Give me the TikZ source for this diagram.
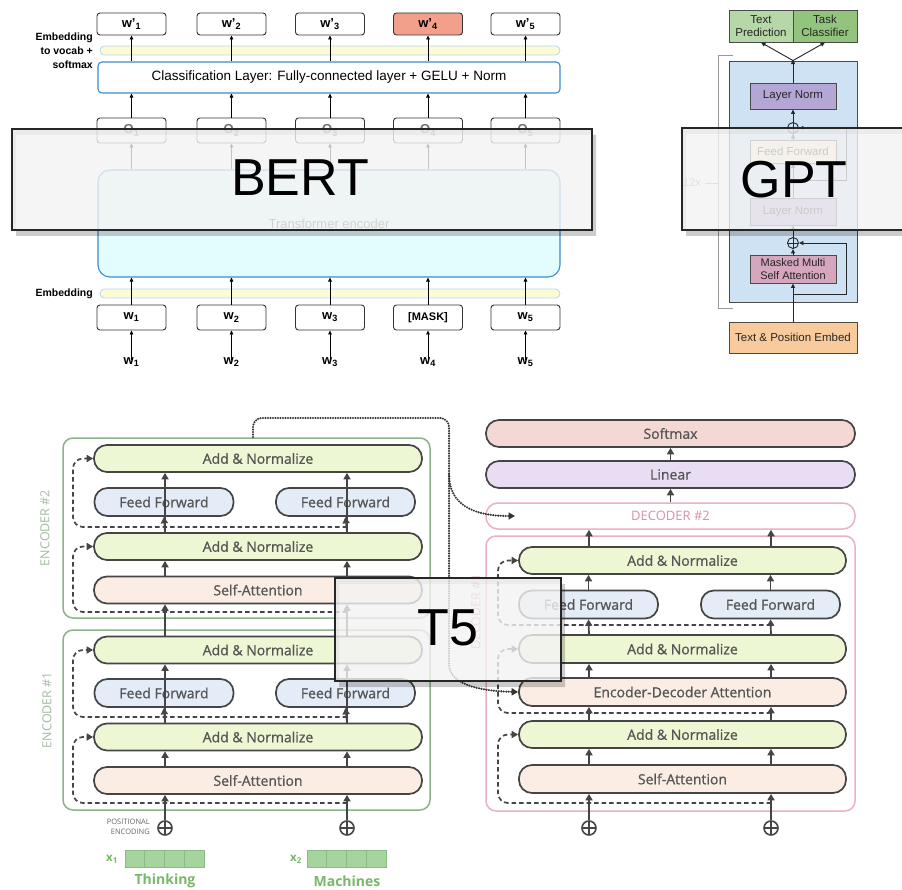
\documentclass[tikz,border=0pt]{standalone}
\usepackage{fontspec}
\setmainfont{Liberation Sans}
\newfontfamily\osans[FakeBold=0.9]{Open Sans}
\newfontfamily\osanr{Open Sans}
\usetikzlibrary{arrows.meta,calc}
\newcommand{\fsz}[1]{\fontsize{#1}{#1}\selectfont}
% BERT colours
\definecolor{bdark}{HTML}{333333}
\definecolor{bertblue}{HTML}{3C8BCF}
\definecolor{cyanfill}{HTML}{E3FDFF}
\definecolor{barfill}{HTML}{FCFBD6}
\definecolor{barline}{HTML}{B9D8EE}
\definecolor{salmon}{HTML}{F2A08C}
% GPT colours
\definecolor{gline}{HTML}{4A4A4A}
\definecolor{gblue}{HTML}{CFE2F3}
\definecolor{lnfill}{HTML}{B4A7D6}
\definecolor{gfffill}{HTML}{FFF2CC}
\definecolor{mmfill}{HTML}{D5A6BD}
\definecolor{embfill}{HTML}{F9CB9C}
\definecolor{tpfill}{HTML}{B6D7A8}
\definecolor{tcfill}{HTML}{93C47D}
% T5 colours
\definecolor{tdark}{HTML}{454545}
\definecolor{ttext}{HTML}{555555}
\definecolor{anfill}{HTML}{EEF7D4}
\definecolor{fffill}{HTML}{E3ECF7}
\definecolor{safill}{HTML}{FBEDE3}
\definecolor{smfill}{HTML}{F4D8D4}
\definecolor{linfill}{HTML}{E8DDF2}
\definecolor{encline}{HTML}{8DB38A}
\definecolor{enctext}{HTML}{A3BCA0}
\definecolor{decline}{HTML}{EAB0C4}
\definecolor{dectext}{HTML}{D890AA}
\definecolor{tgreen}{HTML}{78B86A}
\definecolor{cellfill}{HTML}{A6D49D}
\definecolor{cellline}{HTML}{8DB888}
% overlay panels
\definecolor{ovfill}{HTML}{F3F3F3}
\begin{document}
\begin{tikzpicture}[x=1pt,y=-1pt,
  wbox/.style={draw=bdark, line width=0.9pt, rounded corners=3pt, fill=white,
    minimum width=69pt, minimum height=22pt, inner sep=0pt, font=\bfseries\fsz{13}},
  obox/.style={wbox, minimum height=25pt, text=black!55},
  bar/.style={draw=barline, fill=barfill, line width=0.8pt, rounded corners=4.5pt,
    minimum width=460pt, minimum height=9pt, inner sep=0pt},
  barr/.style={-{Triangle[length=4pt,width=3.6pt]}, line width=0.8pt, draw=black},
  blbl/.style={font=\bfseries\fsz{10.5}, inner sep=0pt},
  gbox/.style={draw=gline, line width=0.9pt, inner sep=0pt, font=\fsz{11.5}, text=black!85},
  gplus/.style={circle, draw=black!85, line width=0.9pt, minimum size=11pt, inner sep=0pt,
    path picture={\draw[line width=0.9pt,black!85] (path picture bounding box.north) -- (path picture bounding box.south)
      (path picture bounding box.west) -- (path picture bounding box.east);}},
  garr/.style={-{Triangle[length=4.5pt,width=4pt]}, line width=0.9pt, draw=black!85},
  tbox/.style={draw=tdark, line width=1.7pt, rounded corners=13pt, inner sep=0pt,
    font=\osans\fsz{14}, text=ttext},
  anorm/.style={tbox, fill=anfill, minimum width=328pt, minimum height=27pt},
  ffwd/.style={tbox, fill=fffill, minimum width=139pt, minimum height=28pt},
  sattn/.style={tbox, fill=safill, minimum width=328pt, minimum height=27pt},
  tplus/.style={circle, draw=tdark, line width=1.6pt, minimum size=14pt, inner sep=0pt,
    path picture={\draw[line width=1.6pt,tdark] (path picture bounding box.north) -- (path picture bounding box.south)
      (path picture bounding box.west) -- (path picture bounding box.east);}},
  tarr/.style={-{Triangle[length=6.5pt,width=7pt]}, line width=1.7pt, draw=tdark},
  resid/.style={-{Triangle[length=6.5pt,width=7pt]}, line width=1.7pt, draw=tdark,
    dash pattern=on 4.5pt off 3pt, rounded corners=10pt},
  dotl/.style={-{Triangle[length=6.5pt,width=7pt]}, line width=2.3pt, draw=black!80,
    line cap=round, dash pattern=on 0pt off 2.5pt},
  stack/.style={rounded corners=10pt, line width=1.5pt, minimum width=367pt, inner sep=0pt},
  ovl/.style={draw=black!85, line width=1.6pt, fill=ovfill, fill opacity=0.8, text opacity=1,
    inner sep=0pt, font=\fsz{52}},
  shade/.style={fill=black, fill opacity=0.2, even odd rule}
]
\useasboundingbox (0,0) rectangle (902,890);
\fill[white] (0,0) rectangle (902,890);

% ---------------- BERT ----------------
\node[wbox] (wo1) at (131.5,24) {w’\textsubscript{1}};
\node[wbox] (wo2) at (231.5,24) {w’\textsubscript{2}};
\node[wbox] (wo3) at (330,24) {w’\textsubscript{3}};
\node[wbox,fill=salmon] (wo4) at (428,24) {w’\textsubscript{4}};
\node[wbox] (wo5) at (525.5,24) {w’\textsubscript{5}};
\node[bar] (vbar) at (330,50.5) {};
\node[draw=bertblue, line width=1.1pt, rounded corners=4pt, fill=white, minimum width=462pt,
  minimum height=31pt, inner sep=0pt, font=\fsz{13.5}] (cls) at (329,77.5)
  {Classification Layer: Fully-connected layer + GELU + Norm};
\node[obox] (o1) at (131.5,130.5) {O\textsubscript{1}};
\node[obox] (o2) at (231.5,130.5) {O\textsubscript{2}};
\node[obox] (o3) at (330,130.5) {O\textsubscript{3}};
\node[obox] (o4) at (428,130.5) {O\textsubscript{4}};
\node[obox] (o5) at (525.5,130.5) {O\textsubscript{5}};
\node[draw=bertblue, line width=1.1pt, rounded corners=12pt, fill=cyanfill, minimum width=462pt,
  minimum height=107pt, inner sep=0pt, font=\fsz{13}, text=black!70] (enc) at (329,223.5)
  {Transformer encoder};
\node[bar] (ebar) at (330,293.5) {};
\node[wbox, minimum height=25pt] (wi1) at (131.5,317.5) {w\textsubscript{1}};
\node[wbox, minimum height=25pt] (wi2) at (231.5,317.5) {w\textsubscript{2}};
\node[wbox, minimum height=25pt] (wi3) at (330,317.5) {w\textsubscript{3}};
\node[wbox, minimum height=25pt, font=\bfseries\fsz{11}] (wi4) at (428,317.5) {[MASK]};
\node[wbox, minimum height=25pt] (wi5) at (525.5,317.5) {w\textsubscript{5}};
\node[blbl, font=\bfseries\fsz{13}] (l1) at (131.5,362) {w\textsubscript{1}};
\node[blbl, font=\bfseries\fsz{13}] (l2) at (231.5,362) {w\textsubscript{2}};
\node[blbl, font=\bfseries\fsz{13}] (l3) at (330,362) {w\textsubscript{3}};
\node[blbl, font=\bfseries\fsz{13}] (l4) at (428,362) {w\textsubscript{4}};
\node[blbl, font=\bfseries\fsz{13}] (l5) at (525.5,362) {w\textsubscript{5}};
\foreach \i in {1,...,5} {
  \draw[barr] ([yshift=-3pt]l\i.north) -- (wi\i.south);
  \draw[barr] (wi\i.north) -- (wi\i.north |- enc.south);
  \draw[barr] (o\i.south |- enc.north) -- (o\i.south);
  \draw[barr] (o\i.north) -- (o\i.north |- cls.south);
  \draw[barr] (wo\i.south |- cls.north) -- (wo\i.south);
}
\node[blbl, anchor=east, align=right, font=\bfseries\fontsize{10.5}{14}\selectfont] (vlab) at (93,51)
  {Embedding\\to vocab +\\softmax};
\node[blbl, anchor=east] (elab) at (93,293.5) {Embedding};

% ---------------- GPT ----------------
\node[gbox, fill=tpfill, minimum width=64pt, minimum height=32pt, align=center,
  font=\fontsize{11.5}{13.5}\selectfont] (tp) at (761,26) {Text\\Prediction};
\node[gbox, fill=tcfill, minimum width=64pt, minimum height=32pt, align=center,
  font=\fontsize{11.5}{13.5}\selectfont] (tc) at (825,26) {Task\\Classifier};
\node[gbox, fill=gblue, minimum width=128pt, minimum height=241pt] (gblk) at (793,181.5) {};
\node[gbox, fill=lnfill, minimum width=86pt, minimum height=26pt] (ln2) at (793,96) {Layer Norm};
\node[gplus] (add2) at (793,128) {};
\node[gbox, fill=gfffill, minimum width=86pt, minimum height=23pt] (gff) at (793,151.5) {Feed Forward};
\node[gbox, fill=lnfill, minimum width=86pt, minimum height=27pt] (ln1) at (793,211.5) {Layer Norm};
\node[gplus] (add1) at (793,243) {};
\node[gbox, fill=mmfill, minimum width=86pt, minimum height=28pt, align=center,
  font=\fontsize{11}{12.5}\selectfont] (mm) at (793,269) {Masked Multi\\Self Attention};
\node[gbox, fill=embfill, minimum width=128pt, minimum height=31pt] (temb) at (793,337.5) {Text \& Position Embed};
\draw[garr] (temb.north) -- (mm.south);
\draw[garr] (mm.north) -- (add1.south);
\draw[garr] (add1.north) -- (ln1.south);
\draw[garr] (ln1.north) -- (gff.south);
\draw[garr] (gff.north) -- (add2.south);
\draw[garr] (add2.north) -- (ln2.south);
\draw[garr] (ln2.north) -- ([yshift=1pt]gblk.north);
\draw[garr] (gblk.north) -- (tp.south);
\draw[garr] (gblk.north) -- (tc.south);
\coordinate (gr1) at (793,294);
\coordinate (gr2) at (793,180);
\draw[garr] (gr1) -- (846,294) -- (846,243) -- (add1.east);
\draw[garr] (gr2) -- (846,180) -- (846,128) -- (add2.east);
\draw[black!40, line width=0.8pt] (733,55) -- (718,55) -- (718,308) -- (733,308);
\node[font=\fsz{11}, text=black!40, inner sep=1pt] (n12) at (692,183) {12x};
\draw[black!40, line width=0.8pt] (n12.east) ++(3pt,0) -- (718,183);

% ---------------- T5 encoders ----------------
\coordinate (eA) at (165,0);
\coordinate (eB) at (347,0);
\node[stack, draw=encline, minimum height=180pt] (enc2) at (246.5,528) {};
\node[stack, draw=encline, minimum height=180pt] (enc1) at (246.5,720) {};
\node[rotate=90, font=\osanr\fsz{12.5}, text=enctext] (enc2lab) at (45,528) {ENCODER \#2};
\node[rotate=90, font=\osanr\fsz{12.5}, text=enctext] (enc1lab) at (47,710) {ENCODER \#1};

\node[anorm] (e2an2) at (258,458.5) {Add \& Normalize};
\node[ffwd] (e2ffA) at (164,502) {Feed Forward};
\node[ffwd] (e2ffB) at (345.5,502) {Feed Forward};
\node[anorm] (e2an1) at (258,546.5) {Add \& Normalize};
\node[sattn] (e2sa) at (258,590) {Self-Attention};

\node[anorm] (e1an2) at (258,650) {Add \& Normalize};
\node[ffwd] (e1ffA) at (164,693) {Feed Forward};
\node[ffwd] (e1ffB) at (345.5,693) {Feed Forward};
\node[anorm] (e1an1) at (258,737) {Add \& Normalize};
\node[sattn] (e1sa) at (258,780.5) {Self-Attention};

\node[tplus] (pA) at (165,828) {};
\node[tplus] (pB) at (347,828) {};
\node[anchor=east, align=right, font=\osanr\fontsize{7.5}{9.5}\selectfont, text=black!60, inner sep=0pt]
  (poslab) at (150,827) {POSITIONAL\\ENCODING};

% residual connections (encoders)
\draw[resid] (347,527) -- (73,527) -- (73,458.5) -- (e2an2.west);
\draw[resid] (347,612) -- (73,612) -- (73,546.5) -- (e2an1.west);
\draw[resid] (347,717) -- (73,717) -- (73,650) -- (e1an2.west);
\draw[resid] (347,803) -- (73,803) -- (73,737) -- (e1an1.west);

\foreach \c in {eA,eB} {
  \draw[tarr] (e2an1.north -| \c) -- (e2an2.south -| \c);
  \draw[tarr] (e2sa.north -| \c) -- (e2an1.south -| \c);
  \draw[tarr] (e1an2.north -| \c) -- (e2sa.south -| \c);
  \draw[tarr] (e1an1.north -| \c) -- (e1an2.south -| \c);
  \draw[tarr] (e1sa.north -| \c) -- (e1an1.south -| \c);
}
\draw[tarr] (e2an1.north -| eA) -- (e2ffA.south);
\draw[tarr] (e2an1.north -| eB) -- (e2ffB.south);
\draw[tarr] (e1an1.north -| eA) -- (e1ffA.south);
\draw[tarr] (e1an1.north -| eB) -- (e1ffB.south);
\draw[tarr] (pA.north) -- (e1sa.south -| eA);
\draw[tarr] (pB.north) -- (e1sa.south -| eB);

% input embeddings
\node[font=\osanr\bfseries\fsz{11.5}, text=tgreen, inner sep=0pt] (x1) at (112,859) {x\textsubscript{1}};
\node[font=\osanr\bfseries\fsz{11.5}, text=tgreen, inner sep=0pt] (x2) at (296,859) {x\textsubscript{2}};
\foreach \k in {0,...,3} {
  \draw[fill=cellfill, draw=cellline, line width=0.7pt] (125+19.75*\k,850) rectangle ++(19.75,17);
  \draw[fill=cellfill, draw=cellline, line width=0.7pt] (307+19.75*\k,850) rectangle ++(19.75,17);
}
\node[font=\osanr\bfseries\fsz{14}, text=tgreen] (think) at (165,881) {Thinking};
\node[font=\osanr\bfseries\fsz{14}, text=tgreen] (mach) at (347,881) {Machines};

% ---------------- T5 decoders ----------------
\coordinate (dA) at (589,0);
\coordinate (dB) at (771,0);
\node[tbox, fill=smfill, minimum width=369pt, minimum height=27pt] (smax) at (670.5,433.5) {Softmax};
\node[tbox, fill=linfill, minimum width=369pt, minimum height=27pt] (lin) at (670.5,474.5) {Linear};
\node[draw=decline, line width=1.5pt, rounded corners=12pt, minimum width=369pt, minimum height=26pt,
  inner sep=0pt, font=\osanr\fsz{13}, text=dectext] (dec2) at (670.5,516) {DECODER \#2};
\node[draw=decline, line width=1.5pt, rounded corners=10pt, minimum width=369pt, minimum height=275pt,
  inner sep=0pt] (dec1) at (670.5,673.5) {};
\node[rotate=90, font=\osanr\fsz{12.5}, text=dectext] (dec1lab) at (476,612) {DECODER \#1};

\node[anorm, minimum width=327pt] (dan3) at (682.5,560.5) {Add \& Normalize};
\node[ffwd] (dffA) at (588.5,604.5) {Feed Forward};
\node[ffwd] (dffB) at (770.5,604.5) {Feed Forward};
\node[anorm, minimum width=327pt, minimum height=28pt] (dan2) at (682.5,649) {Add \& Normalize};
\node[sattn, minimum width=327pt, minimum height=28pt] (deda) at (682.5,692) {Encoder-Decoder Attention};
\node[anorm, minimum width=327pt] (dan1) at (682.5,734.5) {Add \& Normalize};
\node[sattn, minimum width=327pt, minimum height=28pt] (dsa) at (682.5,779) {Self-Attention};
\node[tplus] (pdA) at (589,828) {};
\node[tplus] (pdB) at (771,828) {};

\draw[resid] (771,625) -- (498,625) -- (498,560.5) -- (dan3.west);
\draw[resid] (771,713) -- (498,713) -- (498,649) -- (dan2.west);
\draw[resid] (771,803) -- (498,803) -- (498,734.5) -- (dan1.west);

\foreach \c in {dA,dB} {
  \draw[tarr] (dsa.north -| \c) -- (dan1.south -| \c);
  \draw[tarr] (dan1.north -| \c) -- (deda.south -| \c);
  \draw[tarr] (deda.north -| \c) -- (dan2.south -| \c);
  \draw[tarr] (dan3.north -| \c) -- (dec2.south -| \c);
}
\draw[tarr] (dan2.north -| dA) -- (dffA.south);
\draw[tarr] (dan2.north -| dB) -- (dffB.south);
\draw[tarr] (dffA.north) -- (dan3.south -| dffA.north);
\draw[tarr] (dffB.north) -- (dan3.south -| dffB.north);
\draw[tarr] (pdA.north) -- (dsa.south -| dA);
\draw[tarr] (pdB.north) -- (dsa.south -| dB);
\draw[tarr] (dec2.north) -- (lin.south);
\draw[tarr] (lin.north) -- (smax.south);

% encoder output to the decoders
\coordinate (dstart) at (253,437);
\coordinate (d2in) at (515,516);
\draw[dotl] (dstart) [rounded corners=9pt] -- (253,418) -- (449,418) -- (449,655) [sharp corners]
  .. controls (449,684) and (478,691) .. (deda.west);
\draw[dotl] (449,474) .. controls (449,504) and (472,516) .. (d2in);

% ---------------- overlay panels ----------------
\fill[shade] (16,135) rectangle (596,236) (12,129) rectangle (592,230);
\node[ovl, minimum width=580pt, minimum height=101pt] (bert) at (302,179.5) {};
\node[font=\fsz{52}, inner sep=0pt] (bertlab) at (300,178) {BERT};
\fill[shade] (686,134) rectangle (914,236) (682,128) rectangle (910,230);
\node[ovl, minimum width=228pt, minimum height=102pt] (gpt) at (796,179) {};
\node[font=\fsz{52}, inner sep=0pt] (gptlab) at (794,180) {GPT};
\fill[shade] (339,584) rectangle (565,687) (335,578) rectangle (561,681);
\node[ovl, minimum width=226pt, minimum height=103pt] (tfive) at (448,629.5) {};
\node[font=\fsz{52}, inner sep=0pt] (tfivelab) at (448,628) {T5};
\end{tikzpicture}
\end{document}
